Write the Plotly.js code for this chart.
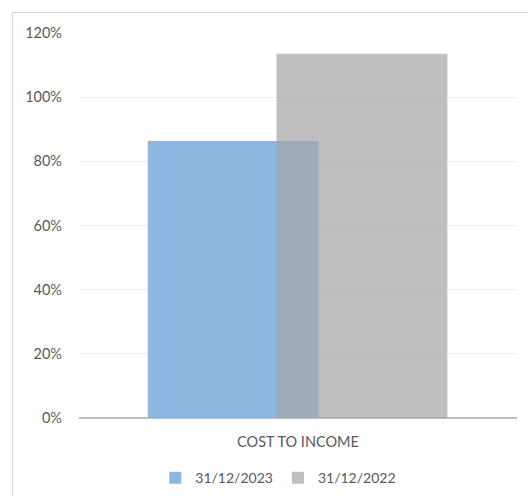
<!DOCTYPE html>
<html><head><meta charset="utf-8">
<script src="https://cdn.plot.ly/plotly-3.0.1.min.js"></script>
<style>
html,body{margin:0;padding:0;background:#fff;overflow:hidden;}
#frame{position:absolute;left:12px;top:12px;width:540px;height:520px;border:1.5px solid #d9d9d9;box-sizing:border-box;}
#chart{position:absolute;left:0;top:0;width:528px;height:496px;}
</style>
</head><body>
<div id="frame"></div>
<div id="chart"></div>
<script>
const categories = ["COST TO INCOME"];
const seriesNames = ["31/12/2023", "31/12/2022"];
const values2023 = [86.3];
const values2022 = [113.5];
const yTicks = [0, 20, 40, 60, 80, 100, 120];

const traces = [
  {type:'bar', name:seriesNames[0], x:categories, y:values2023,
   width:0.39, offset:-0.343, marker:{color:'rgb(141,182,224)'}, hoverinfo:'none'},
  {type:'bar', name:seriesNames[1], x:categories, y:values2022,
   width:0.39, offset:-0.049, marker:{color:'rgba(165,165,165,0.71)'}, hoverinfo:'none'}
];
const layout = {
  width:528, height:496,
  paper_bgcolor:'rgba(0,0,0,0)', plot_bgcolor:'rgba(0,0,0,0)',
  margin:{l:79, r:11, t:33, b:78, autoexpand:false},
  barmode:'overlay',
  font:{family:'Lato, "Open Sans", sans-serif', size:14.5, color:'#595959'},
  xaxis:{type:'category', range:[-0.5,0.5], showgrid:false, zeroline:false, automargin:false,
         showline:false, ticks:'', ticklabelstandoff:13, tickfont:{size:14.5,color:'#595959'}},
  yaxis:{range:[0,120], tickvals:yTicks, ticktext:yTicks.map(v=>v+'%'), automargin:false,
         showgrid:true, gridcolor:'#ececec', gridwidth:1, zeroline:true,
         zerolinecolor:'#bfbfbf', zerolinewidth:1.5, showline:false, ticks:'',
         ticklabelstandoff:16, tickfont:{size:14.5,color:'#595959'}},
  showlegend:true,
  legend:{orientation:'h', x:0.455, xanchor:'center', yref:'container', y:0.036, yanchor:'middle',
          font:{size:14,color:'#595959'}, itemwidth:30, traceorder:'normal'}
};
Plotly.newPlot('chart', traces, layout, {displayModeBar:false, staticPlot:true});
</script>
</body></html>
